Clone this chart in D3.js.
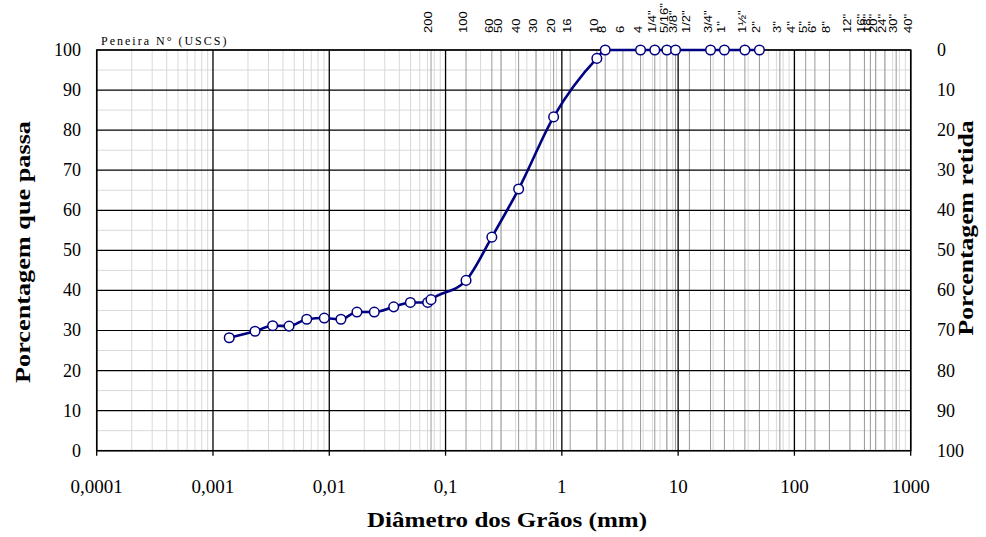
<!DOCTYPE html>
<html>
<head>
<meta charset="utf-8">
<script src="https://cdn.jsdelivr.net/npm/d3@7"></script>
<style>
  body { margin: 0; background: #fff; }
  svg { display: block; }
</style>
</head>
<body>
<svg id="chart"></svg>
<script>
// granulometry data
var diametro = [0.00138, 0.0023, 0.00326, 0.00451, 0.0064, 0.00906, 0.0126, 0.0173, 0.0244, 0.0358, 0.0498, 0.0702,
                0.075, 0.15, 0.25, 0.425, 0.85, 2.0, 2.36, 4.75, 6.3, 8.0, 9.5, 19.0, 25.0, 37.5, 50.0];
var passa = [28.2, 29.8, 31.2, 31.1, 32.8, 33.1, 32.8, 34.6, 34.6, 35.9, 37.0, 37.0,
             37.7, 42.5, 53.3, 65.3, 83.3, 97.9, 100, 100, 100, 100, 100, 100, 100, 100, 100];

// USCS sieves
var peneiraNome = ["200", "100", "60", "50", "40", "30", "20", "16", "10", "8", "6", "4",
                   "1/4\"", "5/16\"", "3/8\"", "1/2\"", "3/4\"", "1\"", "1½\"", "2\"", "3\"", "4\"", "5\"", "6\"", "8\"",
                   "12\"", "16\"", "18\"", "20\"", "24\"", "30\"", "40\""];
var peneiraMM = [0.075, 0.15, 0.25, 0.3, 0.425, 0.6, 0.85, 1.18, 2.0, 2.36, 3.35, 4.75,
                 6.3, 8.0, 9.5, 12.5, 19.0, 25.0, 37.5, 50, 75, 100, 125, 150, 200,
                 300, 400, 450, 500, 600, 750, 1000];

var xTicks = [0.0001, 0.001, 0.01, 0.1, 1, 10, 100, 1000];
var xTickLabels = ["0,0001", "0,001", "0,01", "0,1", "1", "10", "100", "1000"];
var yTicks = [0, 10, 20, 30, 40, 50, 60, 70, 80, 90, 100];

(function () {
var width = 986, height = 537;
var pLeft = 96.7, pRight = 910.7, pTop = 50, pBottom = 450.7;

var svg = d3.select("#chart").attr("width", width).attr("height", height);

var x = d3.scaleLog().domain([0.0001, 1000]).range([pLeft, pRight]);
var y = d3.scaleLinear().domain([0, 100]).range([pBottom, pTop]);

var grid = svg.append("g");

// minor log lines (2..9 each decade)
var minor = [];
for (var e = -4; e < 3; e++) {
    for (var m = 2; m <= 9; m++) minor.push(m * Math.pow(10, e));
}
grid.selectAll(".minor").data(minor).enter().append("line")
    .attr("x1", d => x(d)).attr("x2", d => x(d))
    .attr("y1", pTop).attr("y2", pBottom)
    .attr("stroke", "#d9d9d9").attr("stroke-width", 1);

// half steps horizontal
grid.selectAll(".hhalf").data(d3.range(5, 100, 10)).enter().append("line")
    .attr("x1", pLeft).attr("x2", pRight)
    .attr("y1", d => y(d)).attr("y2", d => y(d))
    .attr("stroke", "#d9d9d9").attr("stroke-width", 1);

// sieve lines
grid.selectAll(".sieve").data(peneiraMM).enter().append("line")
    .attr("x1", d => x(d)).attr("x2", d => x(d))
    .attr("y1", pTop).attr("y2", pBottom)
    .attr("stroke", "#9a9a9a").attr("stroke-width", 1);

// decade lines
grid.selectAll(".major").data(xTicks).enter().append("line")
    .attr("x1", d => x(d)).attr("x2", d => x(d))
    .attr("y1", pTop).attr("y2", pBottom + 5)
    .attr("stroke", "#000").attr("stroke-width", 1.3);

grid.selectAll(".hmajor").data(yTicks).enter().append("line")
    .attr("x1", pLeft).attr("x2", pRight)
    .attr("y1", d => y(d)).attr("y2", d => y(d))
    .attr("stroke", "#000").attr("stroke-width", 1.2);

svg.append("rect")
    .attr("x", pLeft).attr("y", pTop)
    .attr("width", pRight - pLeft).attr("height", pBottom - pTop)
    .attr("fill", "none").attr("stroke", "#000").attr("stroke-width", 1.5);

// axis labels
var serif = "'Liberation Serif', 'Times New Roman', serif";

svg.append("g").selectAll("text").data(xTicks).enter().append("text")
    .attr("x", d => x(d)).attr("y", 493)
    .attr("text-anchor", "middle")
    .style("font-family", serif).style("font-size", "19px")
    .text((d, i) => xTickLabels[i]);

svg.append("g").selectAll("text").data(yTicks).enter().append("text")
    .attr("x", 81).attr("y", d => y(d) + 6)
    .attr("text-anchor", "end")
    .style("font-family", serif).style("font-size", "18px")
    .text(d => d);

svg.append("g").selectAll("text").data(yTicks).enter().append("text")
    .attr("x", 937).attr("y", d => y(d) + 6)
    .attr("text-anchor", "start")
    .style("font-family", serif).style("font-size", "18px")
    .text(d => 100 - d);

svg.append("text")
    .attr("x", 507).attr("y", 527)
    .attr("text-anchor", "middle")
    .attr("textLength", 280).attr("lengthAdjust", "spacingAndGlyphs")
    .style("font-family", serif).style("font-size", "22px").style("font-weight", "bold")
    .text("Diâmetro dos Grãos (mm)");

svg.append("text")
    .attr("transform", "translate(30,252) rotate(-90)")
    .attr("text-anchor", "middle")
    .attr("textLength", 262).attr("lengthAdjust", "spacingAndGlyphs")
    .style("font-family", serif).style("font-size", "22px").style("font-weight", "bold")
    .text("Porcentagem que passa");

svg.append("text")
    .attr("transform", "translate(973,228) rotate(-90)")
    .attr("text-anchor", "middle")
    .attr("textLength", 215).attr("lengthAdjust", "spacingAndGlyphs")
    .style("font-family", serif).style("font-size", "22px").style("font-weight", "bold")
    .text("Porcentagem retida");

svg.append("text")
    .attr("x", 101).attr("y", 45)
    .style("font-family", serif).style("font-size", "12px")
    .style("letter-spacing", "2px")
    .text("Peneira N° (USCS)");

// sieve labels along the top
svg.append("g").selectAll("text").data(peneiraMM).enter().append("text")
    .attr("transform", d => "translate(" + (x(d) + 1) + ",33) rotate(-90) scale(1.3,1.05)")
    .style("font-family", "'Liberation Sans', Arial, sans-serif").style("font-size", "10px")
    .text((d, i) => peneiraNome[i]);

// curve
var pts = diametro.map((d, i) => [d, passa[i]]);
var line = d3.line()
    .x(d => x(d[0])).y(d => y(d[1]))
    .curve(d3.curveMonotoneX);

svg.append("path").datum(pts)
    .attr("d", line)
    .attr("fill", "none").attr("stroke", "#000080").attr("stroke-width", 2.6);

svg.append("g").selectAll("circle").data(pts).enter().append("circle")
    .attr("cx", d => x(d[0])).attr("cy", d => y(d[1]))
    .attr("r", 4.8)
    .attr("fill", "#fff").attr("stroke", "#000080").attr("stroke-width", 1.5);
})();
</script>
</body>
</html>
